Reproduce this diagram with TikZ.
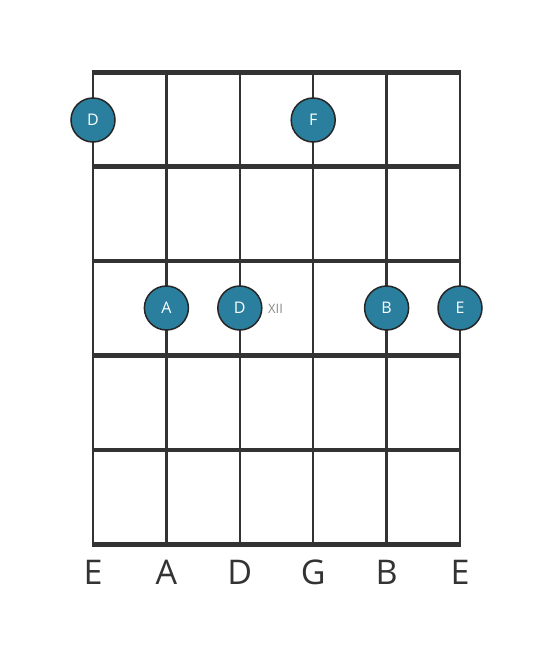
\documentclass[tikz,border=0pt]{standalone}
\usepackage{fontspec}
\setmainfont{Open Sans}
\definecolor{dotc}{HTML}{2A7F9E}
\definecolor{linec}{HTML}{333333}
\definecolor{xiic}{HTML}{8A8A8A}
\begin{document}
\begin{tikzpicture}[x=1pt,y=-1pt,
  fretline/.style={draw=linec,line width=4.5pt},
  stringline/.style={draw=linec,line width=2.5pt},
  notedot/.style={circle,fill=dotc,draw=black!85,line width=1.5pt,minimum size=44pt,inner sep=0pt,text=white,font=\fontsize{16}{16}\selectfont},
  strlabel/.style={text=linec,font=\fontsize{34}{34}\selectfont,inner sep=0pt},
  marker/.style={text=xiic,font=\fontsize{13}{13}\selectfont,inner sep=0pt}]
\useasboundingbox[fill=white] (0,0) rectangle (553,656);
% strings
\foreach \i/\x in {1/93,2/166.4,3/239.8,4/313.2,5/386.6,6/460} {
  \coordinate (st\i) at (\x,72);
  \coordinate (sb\i) at (\x,545);
  \draw[stringline] (st\i) -- (sb\i);
}
% frets
\foreach \j/\y in {0/72.5,1/166.5,2/261,3/355.5,4/450,5/544.5} {
  \coordinate (fl\j) at (91.75,\y);
  \coordinate (fr\j) at (461.25,\y);
  \draw[fretline] (fl\j) -- (fr\j);
}
% notes
\node[notedot] (n1) at (93,120) {D};
\node[notedot] (n2) at (313.2,120) {F};
\node[notedot] (n3) at (166.4,308) {A};
\node[notedot] (n4) at (239.8,308) {D};
\node[notedot] (n5) at (386.6,308) {B};
\node[notedot] (n6) at (460,308) {E};
\node[marker] (xii) at (275.5,308.5) {XII};
% labels
\node[strlabel] (l1) at (93,572) {E};
\node[strlabel] (l2) at (166.4,572) {A};
\node[strlabel] (l3) at (239.8,572) {D};
\node[strlabel] (l4) at (313.2,572) {G};
\node[strlabel] (l5) at (386.6,572) {B};
\node[strlabel] (l6) at (460,572) {E};
\end{tikzpicture}
\end{document}
